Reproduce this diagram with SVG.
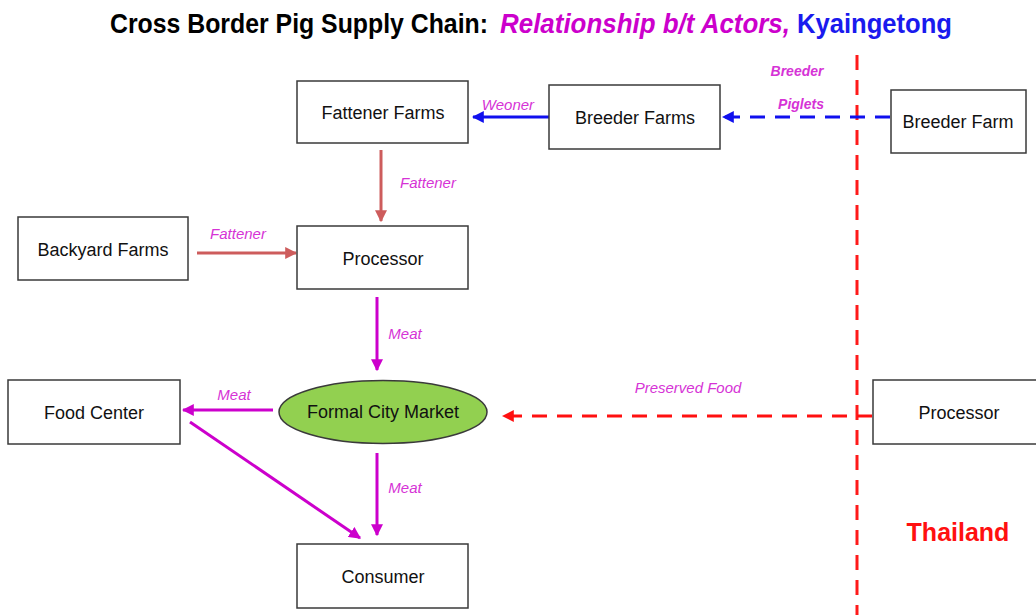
<svg xmlns="http://www.w3.org/2000/svg" width="1036" height="615" viewBox="0 0 1036 615">
<style>
.box{fill:#fff;stroke:#3a3a3a;stroke-width:1.5}
.nt{font-family:"Liberation Sans",Arial,sans-serif;font-size:18px;fill:#111;text-anchor:middle}
.lb{font-family:"Liberation Sans",Arial,sans-serif;font-size:15px;font-style:italic;fill:#d633d6;text-anchor:middle}
.lbb{font-family:"Liberation Sans",Arial,sans-serif;font-size:14px;font-style:italic;font-weight:bold;fill:#d633d6;text-anchor:middle}
.tt{font-family:"Liberation Sans",Arial,sans-serif;font-size:28px;font-weight:bold}
</style>
<defs>
<marker id="aBlue" markerUnits="userSpaceOnUse" markerWidth="12" markerHeight="12" viewBox="0 0 10 10" refX="9" refY="5" orient="auto"><path d="M0,0 L10,5 L0,10 z" fill="#1010ee"/></marker>
<marker id="aRed" markerUnits="userSpaceOnUse" markerWidth="12" markerHeight="12" viewBox="0 0 10 10" refX="9" refY="5" orient="auto"><path d="M0,0 L10,5 L0,10 z" fill="#ff1010"/></marker>
<marker id="aBrown" markerUnits="userSpaceOnUse" markerWidth="12" markerHeight="12" viewBox="0 0 10 10" refX="9" refY="5" orient="auto"><path d="M0,0 L10,5 L0,10 z" fill="#cd5c5c"/></marker>
<marker id="aMag" markerUnits="userSpaceOnUse" markerWidth="12" markerHeight="12" viewBox="0 0 10 10" refX="9" refY="5" orient="auto"><path d="M0,0 L10,5 L0,10 z" fill="#cc00cc"/></marker>
</defs>
<rect width="1036" height="615" fill="#fff"/>
<g id="title">
<text class="tt" x="110" y="33" textLength="378" lengthAdjust="spacingAndGlyphs" fill="#000">Cross Border Pig Supply Chain:</text>
<text class="tt" x="500" y="33" textLength="290" lengthAdjust="spacingAndGlyphs" fill="#cc00cc" font-style="italic">Relationship b/t Actors,</text>
<text class="tt" x="797" y="33" textLength="155" lengthAdjust="spacingAndGlyphs" fill="#1a1aee" font-weight="normal">Kyaingetong</text>
</g>
<g id="border">
<line x1="857" y1="55" x2="857" y2="615" stroke="#ff1a1a" stroke-width="3" stroke-dasharray="15,10"/>
<text x="958" y="541" font-family="Liberation Sans,Arial,sans-serif" font-size="25" font-weight="bold" fill="#ff1010" text-anchor="middle">Thailand</text>
</g>
<g id="connectors" fill="none">
<line x1="549" y1="117" x2="473" y2="117" stroke="#1010ee" stroke-width="3" marker-end="url(#aBlue)"/>
<line x1="890" y1="117" x2="723" y2="117" stroke="#1010ee" stroke-width="3" stroke-dasharray="15,10" marker-end="url(#aBlue)"/>
<line x1="381" y1="150" x2="381" y2="221" stroke="#cd5c5c" stroke-width="3" marker-end="url(#aBrown)"/>
<line x1="197" y1="253" x2="296" y2="253" stroke="#cd5c5c" stroke-width="3" marker-end="url(#aBrown)"/>
<line x1="377" y1="297" x2="377" y2="370" stroke="#cc00cc" stroke-width="3" marker-end="url(#aMag)"/>
<line x1="273" y1="410" x2="183" y2="410" stroke="#cc00cc" stroke-width="3" marker-end="url(#aMag)"/>
<line x1="190" y1="422" x2="360" y2="538" stroke="#cc00cc" stroke-width="3" marker-end="url(#aMag)"/>
<line x1="377" y1="453" x2="377" y2="535" stroke="#cc00cc" stroke-width="3" marker-end="url(#aMag)"/>
<line x1="872" y1="416" x2="503" y2="416" stroke="#ff1010" stroke-width="3" stroke-dasharray="15,10" marker-end="url(#aRed)"/>
<text class="lb" x="508" y="110">Weoner</text>
<text class="lbb" x="797" y="76">Breeder</text>
<text class="lbb" x="801" y="109">Piglets</text>
<text class="lb" x="428" y="188">Fattener</text>
<text class="lb" x="238" y="239">Fattener</text>
<text class="lb" x="405" y="339">Meat</text>
<text class="lb" x="234" y="400">Meat</text>
<text class="lb" x="405" y="493">Meat</text>
<text class="lb" x="688" y="393">Preserved  Food</text>
</g>
<g id="fattener-farms"><rect class="box" x="297" y="81" width="171" height="62"/><text class="nt" x="383" y="119">Fattener Farms</text></g>
<g id="breeder-farms"><rect class="box" x="549" y="85" width="171" height="64"/><text class="nt" x="635" y="124">Breeder Farms</text></g>
<g id="breeder-farm-th"><rect class="box" x="891" y="90" width="135" height="63"/><text class="nt" x="958" y="128">Breeder Farm</text></g>
<g id="backyard-farms"><rect class="box" x="18" y="217" width="170" height="63"/><text class="nt" x="103" y="256">Backyard Farms</text></g>
<g id="processor"><rect class="box" x="297" y="226" width="171" height="63"/><text class="nt" x="383" y="265">Processor</text></g>
<g id="food-center"><rect class="box" x="8" y="380" width="172" height="64"/><text class="nt" x="94" y="419">Food Center</text></g>
<g id="formal-city-market"><ellipse cx="383" cy="412" rx="104" ry="31.5" fill="#92d050" stroke="#3a3a3a" stroke-width="1.5"/><text class="nt" x="383" y="418">Formal City Market</text></g>
<g id="processor-th"><rect class="box" x="873" y="380" width="170" height="64"/><text class="nt" x="959" y="419">Processor</text></g>
<g id="consumer"><rect class="box" x="297" y="544" width="171" height="64"/><text class="nt" x="383" y="583">Consumer</text></g>
</svg>
